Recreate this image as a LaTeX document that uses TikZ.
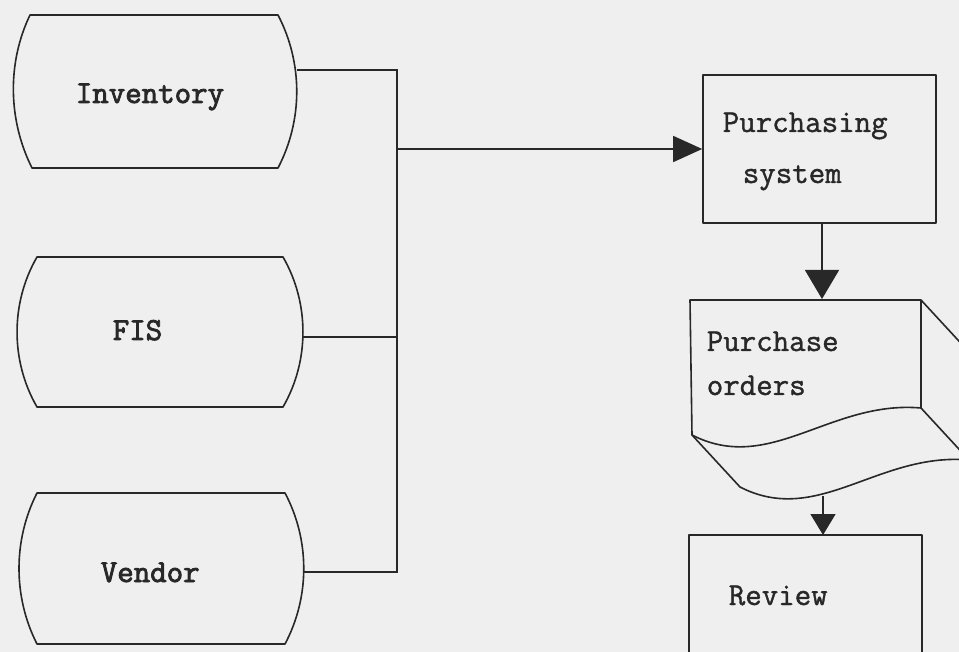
\documentclass[tikz,border=0pt]{standalone}
\usetikzlibrary{arrows.meta}
\usepackage{fontspec}
\newfontfamily\typerlight[FakeBold=1.2]{Latin Modern Mono}
\newfontfamily\typerheavy[FakeBold=2.6]{Latin Modern Mono}
\definecolor{paper}{RGB}{239,239,239}
\definecolor{ink}{RGB}{40,40,40}
\begin{document}
\begin{tikzpicture}[x=1pt,y=-1pt,
    line width=1.6pt, draw=ink,
    outline/.style={draw=ink, line width=1.6pt, line join=round},
    wire/.style={draw=ink, line width=1.5pt},
    label/.style={inner sep=0pt, anchor=base west, text=ink,
                  font=\fontsize{32}{36}\selectfont\typerlight},
    boldlabel/.style={label, font=\fontsize{32}{36}\selectfont\typerheavy}]

% page
\fill[paper] (0,0) rectangle (959,652);
\useasboundingbox (0,0) rectangle (959,652);

% --- files on the left (barrel outlines, sides are circular arcs) ---
\draw[outline] (30,15) -- (278,15)
   .. controls (303,63) and (303,120) .. (278,168) -- (32,168)
   .. controls (8,120) and (7,63) .. cycle;
\draw[outline] (37,257) -- (283,257)
   .. controls (309.6,303) and (309.6,361) .. (283,407) -- (37,407)
   .. controls (10.4,361) and (10.4,303) .. cycle;
\draw[outline] (37,493) -- (285,493)
   .. controls (310,540) and (310,597) .. (285,644) -- (37,644)
   .. controls (13,597) and (13,540) .. cycle;

\node[boldlabel] (inv) at (75,103) {Inventory};
\node[boldlabel] (fis) at (112,340) {FIS};
\node[boldlabel] (ven) at (100,582) {Vendor};

% connection points of the files and the collecting bus
\coordinate (invout) at (297,70);
\coordinate (fisout) at (303,337);
\coordinate (venout) at (304,572);
\coordinate (bustop) at (397,70);
\coordinate (busbot) at (397,572);
\coordinate (busfis) at (397,337);
\coordinate (busout) at (397,149);

% --- process box ---
\node[outline, minimum width=233pt, minimum height=148pt, inner sep=0pt]
   (ps) at (819.5,149) {};
\node[label] (pstext1) at (722,132) {Purchasing};
\node[label] (pstext2) at (742,183) {system};

% --- document stack: purchase orders ---
\begin{scope}
\clip (0,0) rectangle (959,652);
\draw[outline] (690,300) -- (921,300) -- (921,408)
   .. controls (830,400) and (770,475) .. (692,435) -- cycle;
\draw[outline] (921,300) -- (969,352);
\draw[outline] (921,408) -- (969,460);
\draw[outline] (692,435) -- (740,487)
   .. controls (818,527) and (878,452) .. (969,460);
\end{scope}
\node[label] (potext1) at (706,351) {Purchase};
\node[label] (potext2) at (706,395) {orders};
\coordinate (poin) at (822,299);
\coordinate (poout) at (823,496);
\coordinate (psout) at (822,223);

% --- review box (runs off the page bottom) ---
\draw[outline] (689,665) -- (689,535) -- (922,535) -- (922,665);
\coordinate (rvin) at (823,535);
\node[label] (rvtext) at (728,605) {Review};

% --- connectors ---
\draw[wire] (invout) -- (bustop) -- (busbot) -- (venout);
\draw[wire] (fisout) -- (busfis);
\draw[wire, -{Triangle[length=29pt,width=26pt,fill=ink]}] (busout) -- (ps.west);
\draw[wire, -{Triangle[length=29pt,width=34pt,fill=ink]}] (psout) -- (poin);
\draw[wire, -{Triangle[length=21pt,width=25pt,fill=ink]}] (poout) -- (rvin);
\end{tikzpicture}
\end{document}
